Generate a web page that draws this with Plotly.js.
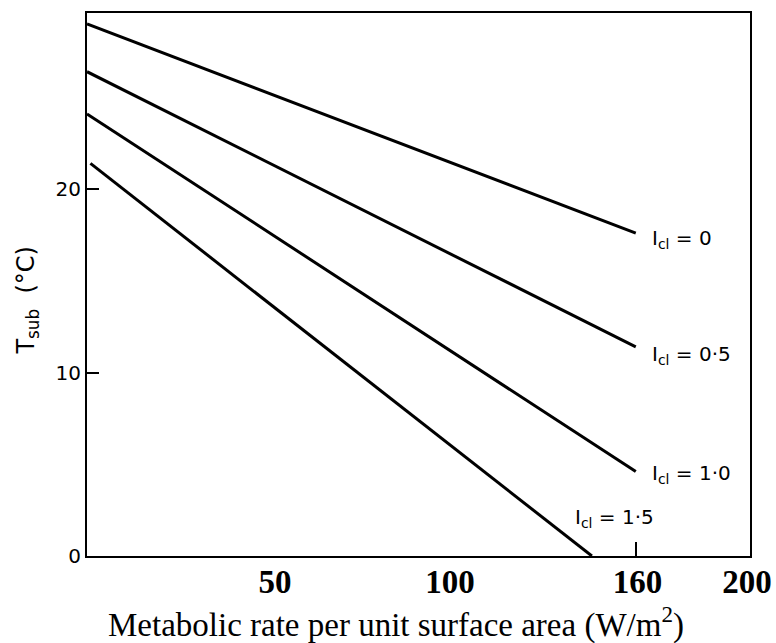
<!DOCTYPE html>
<html>
<head>
<meta charset="utf-8">
<script src="https://cdn.plot.ly/plotly-3.0.1.min.js"></script>
<style>html,body{margin:0;padding:0;background:#fff;}#chart{width:776px;height:643px;}</style>
</head>
<body>
<div id="chart"></div>
<script>
// Series: metabolic rate (x) vs T_sub (°C), one straight line per clothing insulation
const seriesNames = ["I<sub>cl</sub> = 0", "I<sub>cl</sub> = 0·5", "I<sub>cl</sub> = 1·0", "I<sub>cl</sub> = 1·5"];
const xIcl0 = [0, 160];
const yIcl0 = [29.0, 17.6];
const xIcl05 = [0, 160];
const yIcl05 = [26.4, 11.4];
const xIcl10 = [0, 160];
const yIcl10 = [24.1, 4.6];
const xIcl15 = [1, 147.2];
const yIcl15 = [21.4, 0];

// Tick labels as printed on the figure
const xTickVals = [54.8, 105.8, 160.5, 192.4];
const xTickText = ["50", "100", "160", "200"];
const yTickVals = [0, 10, 20];
const yTickText = ["0", "10", "20"];

const handFont = "DejaVu Sans, sans-serif";
const serifFont = "Liberation Serif, Times New Roman, serif";

const lineStyle = {color: "#000", width: 3};
const traces = [
  {x: xIcl0, y: yIcl0, name: seriesNames[0], mode: "lines", line: lineStyle, xaxis: "x", yaxis: "y"},
  {x: xIcl05, y: yIcl05, name: seriesNames[1], mode: "lines", line: lineStyle, xaxis: "x", yaxis: "y"},
  {x: xIcl10, y: yIcl10, name: seriesNames[2], mode: "lines", line: lineStyle, xaxis: "x", yaxis: "y"},
  {x: xIcl15, y: yIcl15, name: seriesNames[3], mode: "lines", line: lineStyle, xaxis: "x2", yaxis: "y"}
];

const labelFont = {family: handFont, size: 20, color: "#000"};
const annotations = [
  {xref: "x", yref: "y", x: xIcl0[1], y: yIcl0[1], text: seriesNames[0], showarrow: false, xanchor: "left", yanchor: "middle", xshift: 14, yshift: -6, font: labelFont},
  {xref: "x", yref: "y", x: xIcl05[1], y: yIcl05[1], text: seriesNames[1], showarrow: false, xanchor: "left", yanchor: "middle", xshift: 14, yshift: -8, font: labelFont},
  {xref: "x", yref: "y", x: xIcl10[1], y: yIcl10[1], text: seriesNames[2], showarrow: false, xanchor: "left", yanchor: "middle", xshift: 14, yshift: -2, font: labelFont},
  {xref: "x", yref: "y", x: xIcl15[1], y: yIcl15[1], text: seriesNames[3], showarrow: false, xanchor: "left", yanchor: "middle", xshift: -19, yshift: 38, font: labelFont},
  {xref: "paper", yref: "paper", x: -0.09, y: 0.471, text: "T<sub>sub</sub>  (°C)", textangle: -90, showarrow: false, xanchor: "center", yanchor: "middle", font: {family: handFont, size: 24, color: "#000"}},
  {xref: "paper", yref: "paper", x: 0.466, y: -0.123, text: "Metabolic rate per unit surface area (W/m<sup>2</sup>)", showarrow: false, xanchor: "center", yanchor: "middle", font: {family: serifFont, size: 33, color: "#000"}}
];

const layout = {
  width: 776,
  height: 643,
  margin: {l: 87, r: 26, t: 13, b: 87},
  paper_bgcolor: "#fff",
  plot_bgcolor: "#fff",
  showlegend: false,
  xaxis: {
    range: [0, 193.3], showgrid: false, zeroline: false,
    showline: true, mirror: true, linecolor: "#000", linewidth: 2,
    tickmode: "array", tickvals: xTickVals, ticktext: xTickText, ticks: "",
    tickfont: {family: serifFont, size: 33, color: "#000", weight: 700},
    ticklabelstandoff: -5
  },
  xaxis2: {
    overlaying: "x", matches: "x", anchor: "y", side: "bottom",
    showgrid: false, zeroline: false, showline: false,
    tickmode: "array", tickvals: [160], ticks: "inside", ticklen: 14, tickwidth: 1.5, tickcolor: "#000",
    showticklabels: false
  },
  yaxis: {
    range: [0, 29.6], showgrid: false, zeroline: false,
    showline: true, mirror: true, linecolor: "#000", linewidth: 2,
    tickmode: "array", tickvals: yTickVals, ticktext: yTickText,
    ticks: "inside", ticklen: 12, tickwidth: 2, tickcolor: "#000",
    tickfont: {family: handFont, size: 20, color: "#000"}
  },
  annotations: annotations
};

Plotly.newPlot("chart", traces, layout, {displayModeBar: false, staticPlot: true});
</script>
</body>
</html>
